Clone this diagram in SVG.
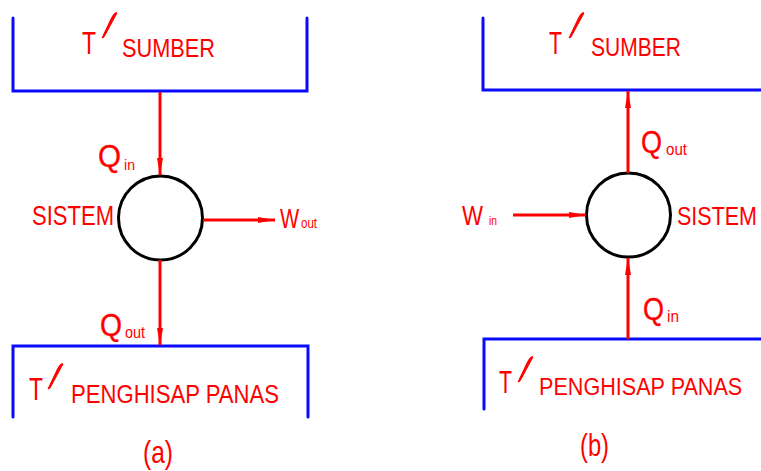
<svg xmlns="http://www.w3.org/2000/svg" width="761" height="471" viewBox="0 0 761 471">
  <style>
    .res { fill: none; stroke: #0a0aff; stroke-width: 3; stroke-linecap: round; stroke-linejoin: miter; }
    .sys { fill: #ffffff; stroke: #000000; stroke-width: 3; }
    .flow { fill: none; stroke: #ff0000; stroke-width: 3; }
    .tick { fill: #ff0000; stroke: #ff0000; stroke-width: 1; stroke-linejoin: round; }
    text { font-family: "Liberation Sans", Arial, sans-serif; fill: #ff0000; }
    .q { stroke: #ff0000; stroke-width: 0.35; }
  </style>
  <defs>
    <marker id="head" markerUnits="userSpaceOnUse" markerWidth="18" markerHeight="8" refX="17" refY="4" orient="auto">
      <path d="M0,1 L17,4 L0,7 Z" fill="#ff0000"/>
    </marker>
  </defs>

  <rect width="761" height="471" fill="#ffffff"/>

  <!-- (a) heat engine -->
  <g id="a-source">
    <path class="res" d="M13,18 V91 H307 V18"/>
    <text x="82" y="54" font-size="31" textLength="14" lengthAdjust="spacingAndGlyphs">T</text>
    <path class="tick" d="M102,38 L111,19 Q115,11 117,13 L104,37 Z"/>
    <text x="122" y="57" font-size="26" textLength="93" lengthAdjust="spacingAndGlyphs">SUMBER</text>
  </g>

  <g id="a-system">
    <circle class="sys" cx="160.5" cy="218" r="42"/>
    <text x="32" y="225" font-size="27" textLength="82" lengthAdjust="spacingAndGlyphs">SISTEM</text>
  </g>

  <g id="a-sink">
    <path class="res" d="M13,417 V346 H308 V417"/>
    <text x="29" y="400" font-size="31" textLength="14" lengthAdjust="spacingAndGlyphs">T</text>
    <path class="tick" d="M48,389 L57,370 Q61,362 63,364 L50,388 Z"/>
    <text x="71" y="403" font-size="26" textLength="208" lengthAdjust="spacingAndGlyphs">PENGHISAP PANAS</text>
  </g>

  <!-- (b) heat pump -->
  <g id="b-source">
    <path class="res" d="M483,18 V90 H761"/>
    <text x="549" y="54" font-size="31" textLength="13" lengthAdjust="spacingAndGlyphs">T</text>
    <path class="tick" d="M569,38 L578,19 Q582,11 584,13 L571,37 Z"/>
    <text x="591" y="56" font-size="26" textLength="90" lengthAdjust="spacingAndGlyphs">SUMBER</text>
  </g>

  <g id="b-system">
    <circle class="sys" cx="628.5" cy="215" r="42"/>
    <text transform="translate(677,225) scale(0.86,1)" font-size="25">SISTEM</text>
  </g>

  <g id="b-sink">
    <path class="res" d="M484,409 V339 H761"/>
    <text x="499" y="393" font-size="31" textLength="13" lengthAdjust="spacingAndGlyphs">T</text>
    <path class="tick" d="M518,382 L527,363 Q531,355 533,357 L520,381 Z"/>
    <text transform="translate(539,395) scale(0.9,1)" font-size="24">PENGHISAP PANAS</text>
  </g>

  <!-- energy flows -->
  <g id="connectors">
    <line class="flow" x1="160" y1="92" x2="160" y2="175" marker-end="url(#head)"/>
    <line class="flow" x1="203" y1="220" x2="275" y2="220" marker-end="url(#head)"/>
    <line class="flow" x1="160" y1="260" x2="160" y2="345" marker-end="url(#head)"/>

    <line class="flow" x1="628" y1="173" x2="628" y2="91" marker-end="url(#head)"/>
    <line class="flow" x1="513" y1="215" x2="586" y2="215" marker-end="url(#head)"/>
    <line class="flow" x1="628" y1="339" x2="628" y2="258" marker-end="url(#head)"/>

    <text class="q" x="98" y="167" font-size="32" textLength="23" lengthAdjust="spacingAndGlyphs">Q</text>
    <text x="124" y="170" font-size="15" textLength="11" lengthAdjust="spacingAndGlyphs">in</text>
    <text transform="translate(280,228) scale(0.75,1)" font-size="27">W</text>
    <text x="301" y="228" font-size="14" textLength="16" lengthAdjust="spacingAndGlyphs">out</text>
    <text class="q" x="100" y="336" font-size="32" textLength="22" lengthAdjust="spacingAndGlyphs">Q</text>
    <text x="125" y="338" font-size="16" textLength="20" lengthAdjust="spacingAndGlyphs">out</text>

    <text class="q" x="641" y="153" font-size="32" textLength="21" lengthAdjust="spacingAndGlyphs">Q</text>
    <text x="666" y="155" font-size="16" textLength="21" lengthAdjust="spacingAndGlyphs">out</text>
    <text x="462" y="225" font-size="27" textLength="21" lengthAdjust="spacingAndGlyphs">W</text>
    <text x="489" y="225" font-size="12" textLength="8" lengthAdjust="spacingAndGlyphs">in</text>
    <text class="q" x="643" y="320" font-size="32" textLength="21" lengthAdjust="spacingAndGlyphs">Q</text>
    <text x="667" y="322" font-size="16" textLength="12" lengthAdjust="spacingAndGlyphs">in</text>
  </g>

  <!-- captions -->
  <text x="143" y="463" font-size="32" textLength="30" lengthAdjust="spacingAndGlyphs">(a)</text>
  <text x="580" y="456" font-size="32" textLength="29" lengthAdjust="spacingAndGlyphs">(b)</text>
</svg>
